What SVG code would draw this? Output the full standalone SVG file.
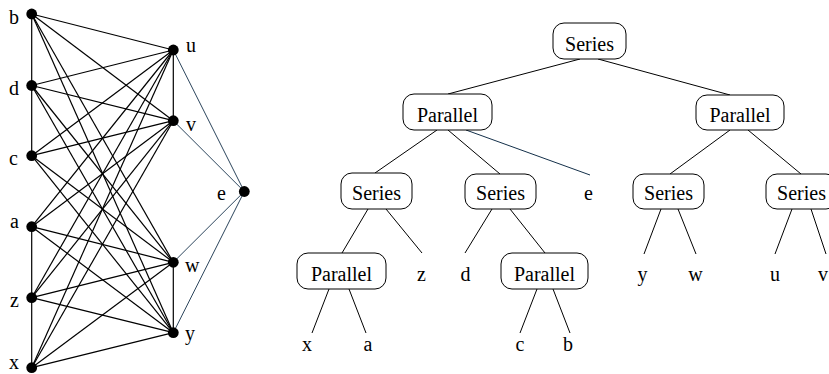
<svg xmlns="http://www.w3.org/2000/svg" width="829" height="374" viewBox="0 0 829 374">
<style>
text{font-family:"Liberation Serif","Times New Roman",serif;font-size:20px;fill:#000}
.m{text-anchor:middle}
.g line{stroke:#000;stroke-width:1.2}
.g line.e{stroke:#14304a;stroke-width:0.9}
.t line{stroke:#000;stroke-width:1}
.t line.e{stroke:#14304a}
.box{fill:#fff;stroke:#000;stroke-width:1}
.dot{fill:#000}
</style>
<rect width="829" height="374" fill="#fff"/>
<g id="graph-edges" class="g">
<line x1="31.7" y1="14" x2="31.7" y2="155.7"/>
<line x1="31.7" y1="226.7" x2="31.7" y2="367.7"/>
<line x1="173.3" y1="50" x2="173.3" y2="120.7"/>
<line x1="173.3" y1="262.3" x2="173.3" y2="332.7"/>
<line x1="31.7" y1="14" x2="173.3" y2="50"/><line x1="31.7" y1="14" x2="173.3" y2="120.7"/><line x1="31.7" y1="14" x2="173.3" y2="262.3"/><line x1="31.7" y1="14" x2="173.3" y2="332.7"/>
<line x1="31.7" y1="85.5" x2="173.3" y2="50"/><line x1="31.7" y1="85.5" x2="173.3" y2="120.7"/><line x1="31.7" y1="85.5" x2="173.3" y2="262.3"/><line x1="31.7" y1="85.5" x2="173.3" y2="332.7"/>
<line x1="31.7" y1="155.7" x2="173.3" y2="50"/><line x1="31.7" y1="155.7" x2="173.3" y2="120.7"/><line x1="31.7" y1="155.7" x2="173.3" y2="262.3"/><line x1="31.7" y1="155.7" x2="173.3" y2="332.7"/>
<line x1="31.7" y1="226.7" x2="173.3" y2="50"/><line x1="31.7" y1="226.7" x2="173.3" y2="120.7"/><line x1="31.7" y1="226.7" x2="173.3" y2="262.3"/><line x1="31.7" y1="226.7" x2="173.3" y2="332.7"/>
<line x1="31.7" y1="297.7" x2="173.3" y2="50"/><line x1="31.7" y1="297.7" x2="173.3" y2="120.7"/><line x1="31.7" y1="297.7" x2="173.3" y2="262.3"/><line x1="31.7" y1="297.7" x2="173.3" y2="332.7"/>
<line x1="31.7" y1="367.7" x2="173.3" y2="50"/><line x1="31.7" y1="367.7" x2="173.3" y2="120.7"/><line x1="31.7" y1="367.7" x2="173.3" y2="262.3"/><line x1="31.7" y1="367.7" x2="173.3" y2="332.7"/>
<line class="e" x1="244.3" y1="191.5" x2="173.3" y2="50"/><line class="e" x1="244.3" y1="191.5" x2="173.3" y2="120.7"/><line class="e" x1="244.3" y1="191.5" x2="173.3" y2="262.3"/><line class="e" x1="244.3" y1="191.5" x2="173.3" y2="332.7"/>
</g>
<g id="g-b"><circle class="dot" cx="31.7" cy="14" r="5.4"/><text x="9" y="24">b</text></g>
<g id="g-d"><circle class="dot" cx="31.7" cy="85.5" r="5.4"/><text x="9" y="95">d</text></g>
<g id="g-c"><circle class="dot" cx="31.7" cy="155.7" r="5.4"/><text x="9" y="165">c</text></g>
<g id="g-a"><circle class="dot" cx="31.7" cy="226.7" r="5.4"/><text x="10" y="228">a</text></g>
<g id="g-z"><circle class="dot" cx="31.7" cy="297.7" r="5.4"/><text x="10" y="307">z</text></g>
<g id="g-x"><circle class="dot" cx="31.7" cy="367.7" r="5.4"/><text x="9" y="369">x</text></g>
<g id="g-u"><circle class="dot" cx="173.3" cy="50" r="5.4"/><text x="186" y="52">u</text></g>
<g id="g-v"><circle class="dot" cx="173.3" cy="120.7" r="5.4"/><text x="186" y="131">v</text></g>
<g id="g-w"><circle class="dot" cx="173.3" cy="262.3" r="5.4"/><text x="185" y="272">w</text></g>
<g id="g-y"><circle class="dot" cx="173.3" cy="332.7" r="5.4"/><text x="185" y="340">y</text></g>
<g id="g-e"><circle class="dot" cx="244.3" cy="191.5" r="5.4"/><text x="217" y="200">e</text></g>

<g id="tree-edges" class="t">
<line x1="580" y1="59" x2="448" y2="94"/>
<line x1="598" y1="59" x2="730" y2="95"/>
<line x1="437" y1="130" x2="375" y2="173"/>
<line x1="448" y1="130" x2="500" y2="174"/>
<line class="e" x1="466" y1="130" x2="590" y2="175"/>
<line x1="368" y1="209" x2="342" y2="253"/>
<line x1="386" y1="209" x2="422" y2="253"/>
<line x1="492" y1="209" x2="465" y2="253"/>
<line x1="510" y1="209" x2="545" y2="253"/>
<line x1="329" y1="289" x2="312" y2="333"/>
<line x1="349" y1="289" x2="366" y2="333"/>
<line x1="537" y1="289" x2="520" y2="333"/>
<line x1="553" y1="289" x2="570" y2="333"/>
<line x1="730" y1="130" x2="670" y2="174"/>
<line x1="748" y1="130" x2="801" y2="174"/>
<line x1="661" y1="209" x2="644" y2="254"/>
<line x1="678" y1="209" x2="696" y2="254"/>
<line x1="792" y1="209" x2="775" y2="254"/>
<line x1="811" y1="209" x2="826" y2="254"/>
</g>
<g id="t-series-root"><rect class="box" x="553" y="23" width="73" height="36" rx="11"/><text class="m" x="589.5" y="51">Series</text></g>
<g id="t-parallel-1"><rect class="box" x="403" y="94" width="89" height="36" rx="11"/><text class="m" x="447.5" y="122">Parallel</text></g>
<g id="t-parallel-2"><rect class="box" x="696" y="95" width="88" height="35" rx="11"/><text class="m" x="740" y="122">Parallel</text></g>
<g id="t-series-a"><rect class="box" x="341" y="173" width="71" height="36" rx="11"/><text class="m" x="376.5" y="200">Series</text></g>
<g id="t-series-b"><rect class="box" x="465" y="174" width="71" height="35" rx="11"/><text class="m" x="500.5" y="200">Series</text></g>
<g id="t-series-c"><rect class="box" x="633" y="174" width="71" height="35" rx="11"/><text class="m" x="668.5" y="200">Series</text></g>
<g id="t-series-d"><rect class="box" x="766" y="174" width="71" height="35" rx="11"/><text class="m" x="801.5" y="200">Series</text></g>
<g id="t-parallel-a"><rect class="box" x="297" y="253" width="89" height="36" rx="11"/><text class="m" x="341.5" y="281">Parallel</text></g>
<g id="t-parallel-b"><rect class="box" x="501" y="253" width="87" height="36" rx="11"/><text class="m" x="544.5" y="281">Parallel</text></g>
<g id="t-leaf-e"><text class="m" x="588.5" y="200">e</text></g>
<g id="t-leaf-z"><text class="m" x="421.5" y="281">z</text></g>
<g id="t-leaf-d"><text class="m" x="465.5" y="281">d</text></g>
<g id="t-leaf-x"><text class="m" x="307" y="351">x</text></g>
<g id="t-leaf-a"><text class="m" x="368" y="351">a</text></g>
<g id="t-leaf-c"><text class="m" x="520" y="351">c</text></g>
<g id="t-leaf-b"><text class="m" x="568" y="351">b</text></g>
<g id="t-leaf-y"><text class="m" x="642.5" y="281">y</text></g>
<g id="t-leaf-w"><text class="m" x="695.5" y="281">w</text></g>
<g id="t-leaf-u"><text class="m" x="775" y="281">u</text></g>
<g id="t-leaf-v"><text x="818" y="281">v</text></g>
</svg>
